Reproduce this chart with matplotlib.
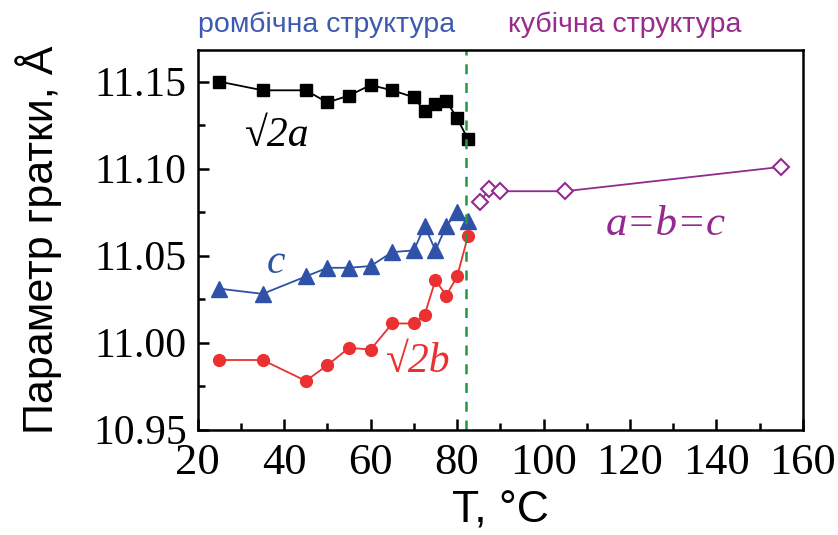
import matplotlib.pyplot as plt

# lattice parameters vs temperature
t_orth = [25, 35, 45, 50, 55, 60, 65, 70, 72.5, 75, 77.5, 80, 82.5]
a_sqrt2 = [11.150, 11.145, 11.145, 11.138, 11.142, 11.148, 11.145, 11.141,
           11.133, 11.137, 11.139, 11.129, 11.117]
c_par = [11.031, 11.028, 11.038, 11.043, 11.043, 11.044, 11.052, 11.053,
         11.067, 11.053, 11.067, 11.075, 11.070]
b_sqrt2 = [10.990, 10.990, 10.978, 10.987, 10.997, 10.996, 11.011, 11.011,
           11.016, 11.036, 11.027, 11.038, 11.061]

t_cub = [85.2, 87.5, 90, 105, 155]
abc = [11.081, 11.088, 11.087, 11.087, 11.101]

t_transition = 82

blue = '#2f52a8'
red = '#ea3030'
purple = '#942a8f'
green = '#1f9a3f'

fig = plt.figure(figsize=(8.38, 5.35), dpi=100)
ax = fig.add_axes([0.236, 0.197, 0.722, 0.709])

ax.plot(t_orth, a_sqrt2, '-', color='black', lw=1.3, marker='s', ms=9)
ax.plot(t_orth, c_par, '-', color=blue, lw=1.3, marker='^', ms=11)
ax.plot(t_orth, b_sqrt2, '-', color=red, lw=1.3, marker='o', ms=8.5)
ax.plot(t_cub, abc, '-', color=purple, lw=1.3, marker='D', ms=8,
        mfc='white', mec=purple, mew=1.5)
ax.axvline(t_transition, color=green, lw=1.8, ls=(0, (4, 3.5)))

ax.set_xlim(20, 160)
ax.set_ylim(10.95, 11.168)
ax.set_xticks(range(20, 161, 20))
ax.set_xticks(range(30, 160, 20), minor=True)
ax.set_yticks([10.95, 11.00, 11.05, 11.10, 11.15])
ax.set_yticks([10.975, 11.025, 11.075, 11.125], minor=True)
ax.set_yticklabels(['10.95', '11.00', '11.05', '11.10', '11.15'])

serif = 'Liberation Serif'
sans = 'Liberation Sans'
for lab in ax.get_xticklabels():
    lab.set_fontfamily(serif)
    lab.set_fontsize(32)
for lab in ax.get_yticklabels():
    lab.set_fontfamily(serif)
    lab.set_fontsize(30)
ax.tick_params(which='major', direction='in', length=8, width=1.8)
ax.tick_params(which='minor', direction='in', length=5, width=1.8)
ax.tick_params(axis='x', which='major', pad=10)
ax.tick_params(axis='y', which='major', pad=8)
for s in ax.spines.values():
    s.set_linewidth(1.8)

ax.set_xlabel('T, °C', fontsize=32, family=sans, labelpad=5)
ax.set_ylabel('Параметр гратки, Å', fontsize=31, family=sans, labelpad=22)

ax.text(31, 11.113, '√2a', fontsize=30, family=serif, style='italic', color='black')
ax.text(36, 11.040, 'c', fontsize=30, family=serif, style='italic', color=blue)
ax.text(63.5, 10.983, '√2b', fontsize=30, family=serif, style='italic', color=red)
ax.text(114.5, 11.062, 'a=b=c', fontsize=31, family=serif, style='italic', color=purple)

fig.text(0.390, 0.953, 'ромбічна структура', fontsize=20.5, family=sans,
         color='#3d5ab2', ha='center', va='center')
fig.text(0.745, 0.953, 'кубічна структура', fontsize=20.5, family=sans,
         color='#9a2a8c', ha='center', va='center')

fig.savefig('out.png', dpi=100)
